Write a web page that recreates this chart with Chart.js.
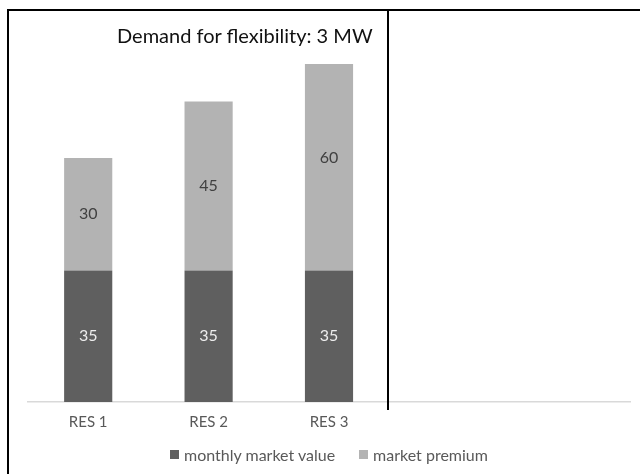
<!DOCTYPE html>
<html>
<head>
<meta charset="utf-8">
<script src="https://cdn.jsdelivr.net/npm/chart.js@4/dist/chart.umd.min.js"></script>
<style>
  html, body { margin:0; padding:0; background:#fff; }
  #wrap { position:relative; width:640px; height:474px; overflow:hidden; font-family: Lato, "Open Sans", sans-serif; }
  #c { position:absolute; left:0; top:0; }
  .ln { position:absolute; background:#000; }
  #title { position:absolute; left:117px; top:23px; font-size:20px; color:#111; white-space:nowrap; }
  #legend { position:absolute; left:28px; width:602px; top:445px; font-size:16px; color:#595959; display:flex; justify-content:center; align-items:center; white-space:nowrap; }
  .sw { display:inline-block; width:9px; height:9px; margin-right:5px; }
  .item { display:flex; align-items:center; margin:0 12px; }
</style>
</head>
<body>
<div id="wrap">
  <canvas id="c" width="640" height="474"></canvas>
  <div class="ln" style="left:8px; top:9px; width:632px; height:2px;"></div>
  <div class="ln" style="left:7px; top:9px; width:2px; height:465px;"></div>
  <div class="ln" style="left:387px; top:10px; width:1.5px; height:400px;"></div>
  <div id="title">Demand for flexibility: 3 MW</div>
  <div id="legend"></div>
</div>
<script>
const categories = ['RES 1', 'RES 2', 'RES 3', '', ''];
const monthlyMarketValue = [35, 35, 35, null, null];
const marketPremium = [30, 45, 60, null, null];
const seriesNames = ['monthly market value', 'market premium'];
const yMax = 90;

const colors = ['#5f5f5f', '#b3b3b3'];
const labelColors = ['#ededed', '#404040'];

const dataLabels = {
  id: 'dataLabels',
  afterDatasetsDraw(chart) {
    const ctx = chart.ctx;
    ctx.save();
    ctx.font = '16px Lato, "Open Sans", sans-serif';
    ctx.textAlign = 'center';
    ctx.textBaseline = 'middle';
    chart.data.datasets.forEach((ds, di) => {
      const meta = chart.getDatasetMeta(di);
      meta.data.forEach((el, i) => {
        const v = ds.data[i];
        if (v == null) return;
        const p = el.getCenterPoint();
        ctx.fillStyle = labelColors[di];
        ctx.fillText(String(v), p.x, p.y);
      });
    });
    ctx.restore();
  }
};

new Chart(document.getElementById('c'), {
  type: 'bar',
  data: {
    labels: categories,
    datasets: [
      { label: seriesNames[0], data: monthlyMarketValue, backgroundColor: colors[0], categoryPercentage: 1, barPercentage: 0.4 },
      { label: seriesNames[1], data: marketPremium, backgroundColor: colors[1], categoryPercentage: 1, barPercentage: 0.4 }
    ]
  },
  options: {
    responsive: false,
    animation: false,
    layout: { padding: { left: 28, right: 10, top: 64, bottom: 32 } },
    plugins: { legend: { display: false }, title: { display: false }, tooltip: { enabled: false } },
    scales: {
      x: {
        stacked: true,
        grid: { display: false, drawTicks: false },
        border: { display: true, color: '#d9d9d9', width: 1.5 },
        ticks: { color: '#595959', font: { family: 'Lato, "Open Sans", sans-serif', size: 15 }, padding: 11, maxRotation: 0 }
      },
      y: {
        stacked: true,
        display: false,
        min: 0,
        max: yMax
      }
    }
  },
  plugins: [dataLabels]
});

const lg = document.getElementById('legend');
seriesNames.forEach((n, i) => {
  const it = document.createElement('span');
  it.className = 'item';
  const sw = document.createElement('span');
  sw.className = 'sw';
  sw.style.background = colors[i];
  it.appendChild(sw);
  it.appendChild(document.createTextNode(n));
  lg.appendChild(it);
});
</script>
</body>
</html>
